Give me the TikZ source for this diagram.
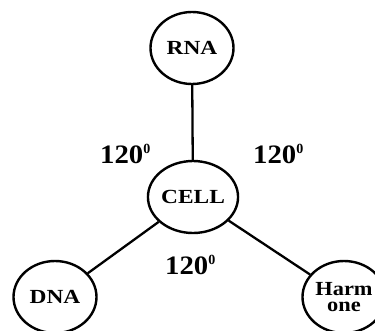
\documentclass[tikz,border=0pt]{standalone}
\usepackage{fontspec}
\setmainfont{Liberation Serif}
\usetikzlibrary{shapes.geometric}
\begin{document}
\begin{tikzpicture}[x=1pt,y=-1pt,
  blob/.style={draw, line width=2.4pt, ellipse, minimum width=83pt, minimum height=72pt, inner sep=0pt,
    font=\fontsize{20}{15.5}\selectfont\bfseries, align=center},
  conn/.style={line width=2.3pt},
  lab/.style={anchor=base west, inner sep=0pt, font=\fontsize{26.6}{26.6}\selectfont\bfseries}]
\useasboundingbox (0,0) rectangle (375,330);
\node[blob] (rna) at (192,48) {\scalebox{1.17}[1]{RNA}};
\node[blob] (cell) at (193,197) {\scalebox{1.17}[1]{CELL}};
\node[blob] (dna) at (55,297) {\scalebox{1.17}[1]{DNA}};
\node[blob] (harm) at (344,297) {\scalebox{1.12}[1]{Harm}\\\scalebox{1.12}[1]{one}};
\draw[conn] (rna) -- (cell);
\draw[conn] (cell) -- (dna);
\draw[conn] (cell) -- (harm);
\node[lab] (l1) at (100,163) {\scalebox{1.08}[1]{120}\raisebox{10pt}{\fontsize{14}{14}\selectfont 0}};
\node[lab] (l2) at (253,163) {\scalebox{1.08}[1]{120}\raisebox{10pt}{\fontsize{14}{14}\selectfont 0}};
\node[lab] (l3) at (165,274) {\scalebox{1.08}[1]{120}\raisebox{10pt}{\fontsize{14}{14}\selectfont 0}};
\end{tikzpicture}
\end{document}
